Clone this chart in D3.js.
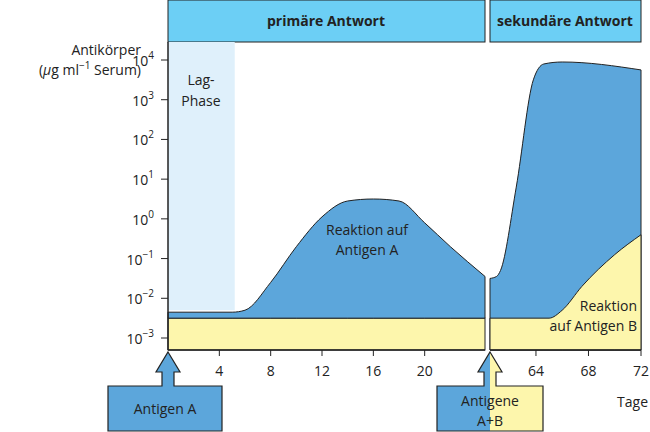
<!DOCTYPE html>
<html><head><meta charset="utf-8">
<script src="https://cdn.jsdelivr.net/npm/d3@7"></script>
<style>body{margin:0;background:#fff}text{font-family:"Open Sans",sans-serif;font-size:14px;fill:#222}</style>
</head><body>
<svg id="chart" width="650" height="432"></svg>
<script>
// values as log10 of antibody concentration
const yTicks = [-3, -2, -1, 0, 1, 2, 3, 4]
const xTicksA = [4, 8, 12, 16, 20]
const xTicksB = [64, 68, 72]
const baseLevel = -2.5
const primaryA = [[0, -2.35], [5, -2.35], [6, -2.3], [8, -1.6], [10, -0.7], [12, 0.05], [14, 0.45], [16, 0.5], [18, 0.45], [20, -0.1], [22, -0.7], [24.7, -1.45]]
const secondaryA = [[60.5, -1.5], [61, -1.45], [61.3, -1.3], [62.5, 0.8], [63.8, 3.5], [64.6, 3.9], [66, 3.95], [72, 3.75]]
const secondaryB = [[60.5, -2.5], [65, -2.5], [66, -2.3], [67.5, -1.7], [70, -0.9], [72, -0.4]]

const svg = d3.select("#chart")
const blue = "#5ca6db", yellow = "#fdf6ac", head = "#6ccff5", lag = "#dff0fb"
const y = d3.scaleLinear().domain([-3, 4]).range([338, 60])
const xA = d3.scaleLinear().domain([0, 24.7]).range([168, 485])
const xB = d3.scaleLinear().domain([60.5, 72]).range([490, 641])
const bottom = 350, plotTop = 42

// header
svg.append("rect").attr("x", 168).attr("y", 0).attr("width", 317).attr("height", plotTop).attr("fill", head).attr("stroke", "#222")
svg.append("rect").attr("x", 490).attr("y", 0).attr("width", 151).attr("height", plotTop).attr("fill", head).attr("stroke", "#222")
svg.append("text").attr("x", 326).attr("y", 26).attr("text-anchor", "middle").attr("font-weight", "bold").text("primäre Antwort")
svg.append("text").attr("x", 565).attr("y", 26).attr("text-anchor", "middle").attr("font-weight", "bold").text("sekundäre Antwort")

// lag phase
svg.append("rect").attr("x", xA(0)).attr("y", plotTop).attr("width", xA(5.2) - xA(0)).attr("height", y(-2.3) - plotTop).attr("fill", lag)
svg.append("text").attr("x", 201).attr("y", 85).attr("text-anchor", "middle").text("Lag-")
svg.append("text").attr("x", 201).attr("y", 106).attr("text-anchor", "middle").text("Phase")

// yellow base
svg.append("rect").attr("x", xA(0)).attr("y", y(baseLevel)).attr("width", xA(24.7) - xA(0)).attr("height", bottom - y(baseLevel)).attr("fill", yellow).attr("stroke", "#222")
// primary
const areaA = d3.area().x(d => xA(d[0])).y0(y(baseLevel)).y1(d => y(d[1])).curve(d3.curveMonotoneX)
svg.append("path").datum(primaryA).attr("d", areaA).attr("fill", blue).attr("stroke", "#222")
svg.append("text").attr("x", 367).attr("y", 235).attr("text-anchor", "middle").text("Reaktion auf")
svg.append("text").attr("x", 367).attr("y", 255).attr("text-anchor", "middle").text("Antigen A")

// secondary
const areaB = d3.area().x(d => xB(d[0])).y0(bottom).y1(d => y(d[1])).curve(d3.curveMonotoneX)
svg.append("path").datum(secondaryA).attr("d", areaB).attr("fill", blue).attr("stroke", "#222")
svg.append("path").datum(secondaryB).attr("d", areaB).attr("fill", yellow).attr("stroke", "#222")
svg.append("text").attr("x", 637).attr("y", 311).attr("text-anchor", "end").text("Reaktion")
svg.append("text").attr("x", 637).attr("y", 331).attr("text-anchor", "end").text("auf Antigen B")

// axes
svg.append("line").attr("x1", 168).attr("x2", 168).attr("y1", plotTop).attr("y2", bottom).attr("stroke", "#222").attr("stroke-width", 1.5)
svg.append("line").attr("x1", 168).attr("x2", 485).attr("y1", bottom).attr("y2", bottom).attr("stroke", "#222").attr("stroke-width", 1.5)
svg.append("line").attr("x1", 490).attr("x2", 641).attr("y1", bottom).attr("y2", bottom).attr("stroke", "#222").attr("stroke-width", 1.5)
yTicks.forEach(t => {
  svg.append("line").attr("x1", 161).attr("x2", 168).attr("y1", y(t)).attr("y2", y(t)).attr("stroke", "#222")
  const tx = svg.append("text").attr("x", 154).attr("y", y(t) + 6).attr("text-anchor", "end")
  tx.append("tspan").text("10")
  tx.append("tspan").attr("dy", -7).attr("font-size", 10).text(t < 0 ? "\u2212" + (-t) : t)
})
xTicksA.forEach(t => {
  svg.append("line").attr("x1", xA(t)).attr("x2", xA(t)).attr("y1", bottom).attr("y2", bottom + 6).attr("stroke", "#222")
  svg.append("text").attr("x", xA(t)).attr("y", bottom + 26).attr("text-anchor", "middle").text(t)
})
xTicksB.forEach(t => {
  svg.append("line").attr("x1", xB(t)).attr("x2", xB(t)).attr("y1", bottom).attr("y2", bottom + 6).attr("stroke", "#222")
  svg.append("text").attr("x", xB(t)).attr("y", bottom + 26).attr("text-anchor", "middle").text(t)
})
svg.append("text").attr("x", 141).attr("y", 55).attr("text-anchor", "end").text("Antikörper")
const u = svg.append("text").attr("x", 141).attr("y", 75).attr("text-anchor", "end")
u.append("tspan").text("(")
u.append("tspan").attr("font-style", "italic").text("\u03bc")
u.append("tspan").text("g ml")
u.append("tspan").attr("dy", -6).attr("font-size", 10).text("\u22121")
u.append("tspan").attr("dy", 6).text(" Serum)")
svg.append("text").attr("x", 648).attr("y", 407).attr("text-anchor", "end").text("Tage")

// arrows
function arrow(cx, bx, bw, fills, lines) {
  const pts = [[cx, bottom + 2], [cx + 12, bottom + 22], [cx + 6, bottom + 22], [cx + 6, 386], [bx + bw, 386], [bx + bw, 431], [bx, 431], [bx, 386], [cx - 6, 386], [cx - 6, bottom + 22], [cx - 12, bottom + 22]]
  const id = "clip" + cx
  svg.append("clipPath").attr("id", id).append("polygon").attr("points", pts.join(" "))
  const g = svg.append("g").attr("clip-path", `url(#${id})`)
  if (fills.length === 1) g.append("rect").attr("x", bx - 20).attr("y", bottom).attr("width", bw + 40).attr("height", 90).attr("fill", fills[0])
  else {
    g.append("rect").attr("x", bx - 20).attr("y", bottom).attr("width", cx - bx + 20).attr("height", 90).attr("fill", fills[0])
    g.append("rect").attr("x", cx).attr("y", bottom).attr("width", bx + bw - cx + 20).attr("height", 90).attr("fill", fills[1])
  }
  svg.append("polygon").attr("points", pts.join(" ")).attr("fill", "none").attr("stroke", "#222").attr("stroke-width", 1.2)
  lines.forEach((l, i) => svg.append("text").attr("x", bx + bw / 2).attr("y", lines.length === 1 ? 414 : 406 + i * 20).attr("text-anchor", "middle").text(l))
}
arrow(168, 108, 114, [blue], ["Antigen A"])
arrow(490, 437, 106, [blue, yellow], ["Antigene", "A+B"])
</script>
</body></html>
